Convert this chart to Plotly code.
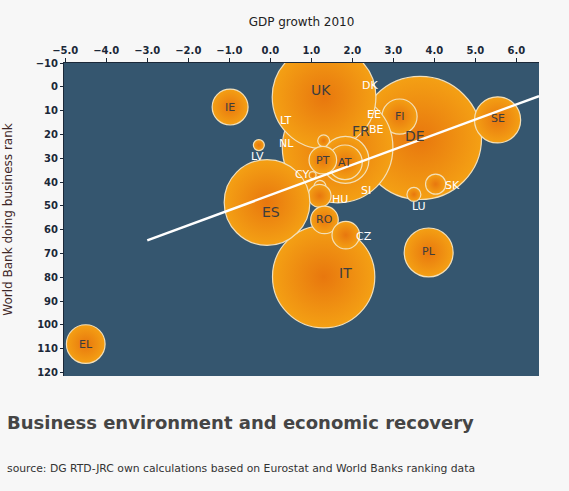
import plotly.graph_objects as go

# Countries in drawing order (hidden ones first, so they sit behind the big bubbles)
countries = ["BE", "EE", "DK", "DE", "FI", "FR", "UK", "LT", "NL", "AT", "PT", "CY", "SI",
             "HU", "IT", "ES", "RO", "CZ", "PL", "SE", "SK", "LU", "IE", "LV", "EL"]
gdp_growth = [2.1, 2.4, 2.1, 3.65, 3.15, 1.64, 1.31, 1.3, 1.83, 1.82, 1.28, 1.03, 1.21,
              1.2, 1.3, -0.08, 1.32, 1.84, 3.86, 5.54, 4.03, 3.5, -0.98, -0.28, -4.5]
db_rank = [28, 17, 5.8, 21.5, 12.5, 25.5, 4.3, 22.7, 30.7, 31.7, 30.8, 37.1, 41.8,
           45.8, 79.8, 48.6, 55.9, 62.3, 69.6, 13.9, 40.9, 45.2, 8.5, 24.5, 108.1]
# bubble size variable (economy size, bn EUR)
gdp_size = [284, 15, 213, 2500, 204, 2020, 1775, 23, 365, 197, 126, 8, 23,
            87, 1728, 1213, 126, 126, 395, 352, 67, 32, 213, 20, 247]

# trend line end points
trend_x = [-3.0, 6.55]
trend_y = [64.5, 3.9]

x_ticks = [-5, -4, -3, -2, -1, 0, 1, 2, 3, 4, 5, 6]
y_ticks = list(range(-10, 121, 10))

# label placement (pixel shift from bubble centre) and colour
label_shift = {
    "UK": (-3, -7), "DK": (14, -15), "EE": (5, -13), "BE": (20, -24), "FR": (23, -17),
    "LT": (-38, -20), "NL": (-59, -16), "PT": (0, 0), "AT": (0, 0), "CY": (-11, -1),
    "SI": (46, 4), "HU": (20, 4), "LV": (-1, 11), "IE": (0, 0), "ES": (4, 10),
    "RO": (0, 0), "CZ": (18, 1), "IT": (22, -4), "PL": (0, -1), "EL": (0, 0),
    "FI": (0, 0), "DE": (-5, -2), "SE": (0, -1), "SK": (17, 1), "LU": (5, 12),
}
dark_labels = {"UK", "FR", "DE", "IT", "ES", "PT", "AT", "FI", "SE", "PL", "RO", "IE", "EL"}
big_labels = {"UK", "FR", "DE", "IT", "ES"}

font = "DejaVu Sans"
W, H = 569, 491
M = dict(l=64, r=30, t=63, b=115)
plot_h = H - M["t"] - M["b"]

fig = go.Figure()

fig.add_trace(go.Scatter(
    x=gdp_growth, y=db_rank, mode="markers",
    marker=dict(
        size=gdp_size, sizemode="area", sizeref=2500 / 87 ** 2,
        color="#f4a014",
        gradient=dict(type="radial", color="#e8770e"),
        line=dict(color="#f3dfb8", width=1.2),
        opacity=1,
    ),
    hoverinfo="text", text=countries, showlegend=False,
))

fig.add_trace(go.Scatter(
    x=trend_x, y=trend_y, mode="lines",
    line=dict(color="white", width=2.5),
    hoverinfo="skip", showlegend=False,
))

for c, gx, ry in zip(countries, gdp_growth, db_rank):
    dx, dy = label_shift[c]
    fig.add_annotation(
        x=gx, y=ry, text=c, showarrow=False, xshift=dx, yshift=-dy,
        font=dict(family=font, size=14 if c in big_labels else 11,
                  color="#3d3d3d" if c in dark_labels else "white"),
    )

# titles below the chart, placed in pixels from the plot's left / bottom edge
fig.add_annotation(
    x=0.0, y=(H - M["b"] - 422) / plot_h, xref="paper", yref="paper", xshift=-59,
    text="<b>Business environment and economic recovery</b>",
    showarrow=False, xanchor="left", yanchor="middle",
    font=dict(family=font, size=18, color="#454545"),
)
fig.add_annotation(
    x=0.0, y=(H - M["b"] - 468) / plot_h, xref="paper", yref="paper", xshift=-59,
    text="source: DG RTD-JRC own calculations based on Eurostat and World Banks ranking data",
    showarrow=False, xanchor="left", yanchor="middle",
    font=dict(family=font, size=10.8, color="#333333"),
)

fig.update_layout(
    width=W, height=H,
    margin=M,
    paper_bgcolor="#f7f7f7",
    plot_bgcolor="#35566f",
    font=dict(family=font, color="#1b2838"),
    xaxis=dict(
        side="top", range=[-5.03, 6.55], tickvals=x_ticks, tickformat=".1f",
        automargin=False,
        showgrid=False, zeroline=False, ticks="outside", ticklen=4, tickcolor="#1b2838",
        showline=True, linecolor="#1b2838", linewidth=1,
        tickfont=dict(family=font, size=10, color="#1b2838", weight="bold"),
        title=dict(text="GDP growth 2010", standoff=15,
                   font=dict(family=font, size=12, color="#222222")),
    ),
    yaxis=dict(
        range=[121.5, -10], tickvals=y_ticks, automargin=False,
        showgrid=False, zeroline=False, ticks="outside", ticklen=3, tickcolor="#1b2838",
        showline=True, linecolor="#1b2838", linewidth=1,
        tickfont=dict(family=font, size=10, color="#1b2838", weight="bold"),
        title=dict(text="World Bank doing business rank", standoff=20,
                   font=dict(family=font, size=12, color="#3e2626")),
    ),
)

# drop the page's default body margin so the figure fills the window
fig.write_html("out.html", config={"displayModeBar": False},
               post_script="document.body.style.margin='0';")
